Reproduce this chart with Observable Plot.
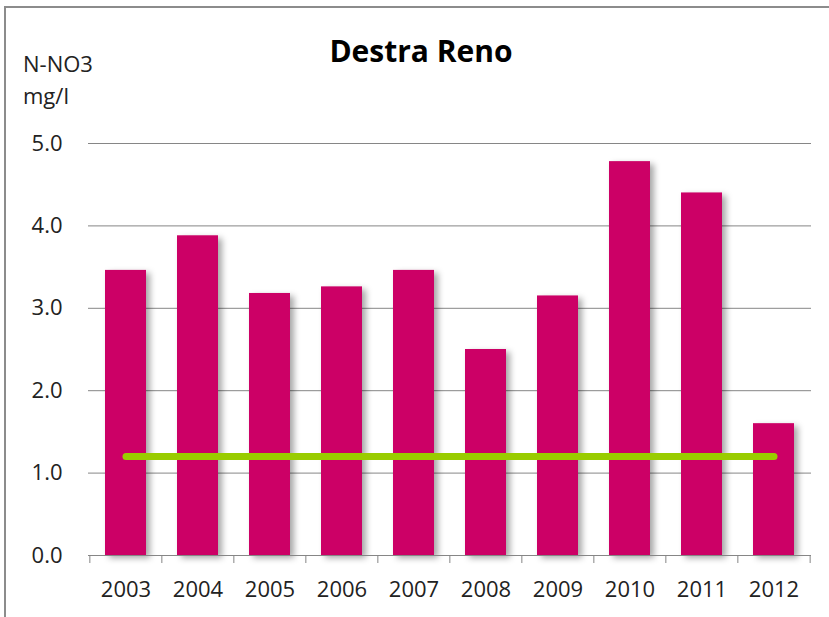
<!DOCTYPE html>
<html>
<head>
<meta charset="utf-8">
<script src="https://cdn.jsdelivr.net/npm/d3@7"></script>
<script src="https://cdn.jsdelivr.net/npm/@observablehq/plot@0.6"></script>
<style>
  html, body { margin: 0; padding: 0; background: #fff; overflow: hidden; }
  #wrap { position: relative; width: 829px; height: 617px; overflow: hidden; font-family: "Open Sans", sans-serif; }
  #frame { position: absolute; left: 4px; top: 6px; width: 900px; height: 700px; border-left: 2px solid #8c8c8c; border-top: 2px solid #8c8c8c; }
  #title { position: absolute; left: 0; width: 842px; top: 36px; text-align: center; font-size: 30px; font-weight: 700; line-height: 30px; color: #000; }
  .unit { position: absolute; left: 23px; font-size: 22px; line-height: 22px; color: #222; }
  #chart { position: absolute; left: 0; top: 0; }
</style>
</head>
<body>
<div id="wrap">
  <div id="frame"></div>
  <div id="chart"></div>
  <div id="title">Destra Reno</div>
  <div class="unit" style="top:52px">N-NO3</div>
  <div class="unit" style="top:84px">mg/l</div>
</div>
<script>
const years = ["2003","2004","2005","2006","2007","2008","2009","2010","2011","2012"];
const values = [3.46, 3.88, 3.18, 3.26, 3.46, 2.50, 3.15, 4.78, 4.40, 1.60];
const threshold = [1.2, 1.2, 1.2, 1.2, 1.2, 1.2, 1.2, 1.2, 1.2, 1.2];
const yTicks = [0, 1, 2, 3, 4, 5];

const W = 829, H = 617, mL = 88, mR = 18, mT = 143, mB = 62;
const step = (W - mL - mR) / years.length;

const chart = Plot.plot({
  width: W,
  height: H,
  marginLeft: mL,
  marginRight: mR,
  marginTop: mT,
  marginBottom: mB,
  style: { fontFamily: "Open Sans", fontSize: "22px", color: "#222", background: "transparent", overflow: "visible" },
  x: { domain: years, paddingInner: 0.434, paddingOuter: 0.217, label: null },
  y: { domain: [0, 5], label: null },
  marks: [
    Plot.gridY(yTicks, { stroke: "#868686", strokeOpacity: 1 }),
    Plot.axisY(yTicks, { tickSize: 0, tickPadding: 26, tickFormat: d => d.toFixed(1), label: null, fill: "#222" }),
    Plot.barY(values, { x: years, y: values, fill: "#CC0066", imageFilter: "drop-shadow(4px 3px 3px rgba(0,0,0,0.35))" }),
    Plot.ruleY([0], { stroke: "#868686" }),
    Plot.axisX(years, { tickSize: 8, tickFormat: () => "", dx: -step / 2, stroke: "#868686", label: null }),
    Plot.axisX([years[years.length - 1]], { tickSize: 8, tickFormat: () => "", dx: step / 2, stroke: "#868686", label: null }),
    Plot.axisX(years, { tickSize: 0, tickPadding: 26, label: null, fill: "#222" }),
    Plot.lineY(threshold, { x: years, y: threshold, stroke: "#99CC00", strokeWidth: 7, strokeLinecap: "round" })
  ]
});
document.getElementById("chart").appendChild(chart);
</script>
</body>
</html>
